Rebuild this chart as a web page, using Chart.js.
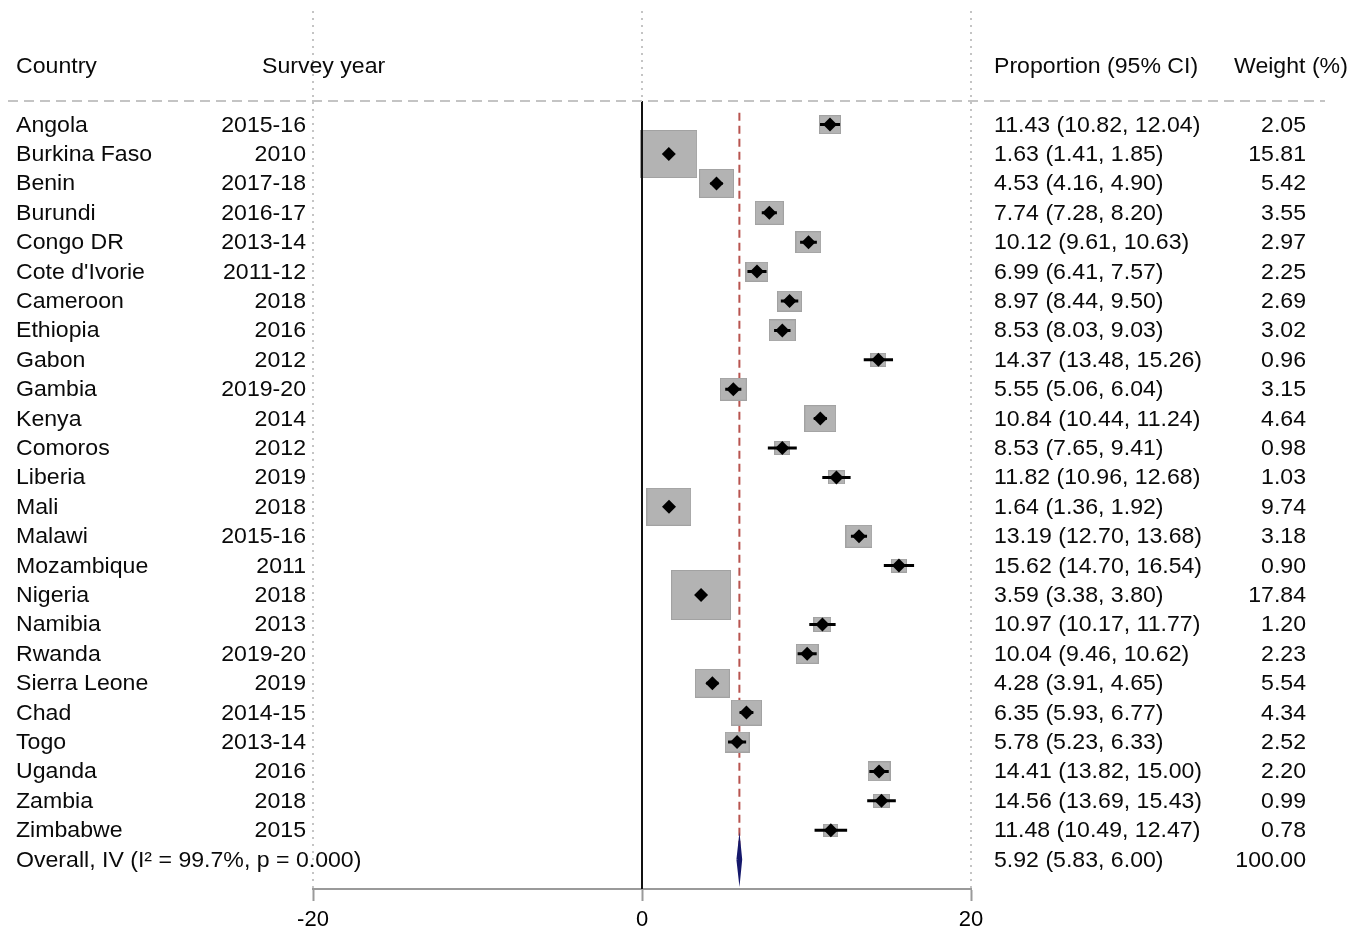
<!DOCTYPE html>
<html>
<head>
<meta charset="utf-8">
<title>Forest plot</title>
<script src="https://cdn.jsdelivr.net/npm/chart.js@4.4.0/dist/chart.umd.min.js"></script>
<style>
  html, body { margin: 0; padding: 0; background: #fff; }
  #wrap { width: 1368px; height: 928px; }
</style>
</head>
<body>
<div id="wrap"><canvas id="forest" width="1368" height="928"></canvas></div>
<script>
// study rows
const countries = ['Angola', 'Burkina Faso', 'Benin', 'Burundi', 'Congo DR', "Cote d'Ivorie", 'Cameroon',
  'Ethiopia', 'Gabon', 'Gambia', 'Kenya', 'Comoros', 'Liberia', 'Mali', 'Malawi', 'Mozambique', 'Nigeria',
  'Namibia', 'Rwanda', 'Sierra Leone', 'Chad', 'Togo', 'Uganda', 'Zambia', 'Zimbabwe'];
const years = ['2015-16', '2010', '2017-18', '2016-17', '2013-14', '2011-12', '2018', '2016', '2012', '2019-20',
  '2014', '2012', '2019', '2018', '2015-16', '2011', '2018', '2013', '2019-20', '2019', '2014-15', '2013-14',
  '2016', '2018', '2015'];
const estimates = [11.43, 1.63, 4.53, 7.74, 10.12, 6.99, 8.97, 8.53, 14.37, 5.55, 10.84, 8.53, 11.82, 1.64,
  13.19, 15.62, 3.59, 10.97, 10.04, 4.28, 6.35, 5.78, 14.41, 14.56, 11.48];
const lower = [10.82, 1.41, 4.16, 7.28, 9.61, 6.41, 8.44, 8.03, 13.48, 5.06, 10.44, 7.65, 10.96, 1.36,
  12.70, 14.70, 3.38, 10.17, 9.46, 3.91, 5.93, 5.23, 13.82, 13.69, 10.49];
const upper = [12.04, 1.85, 4.90, 8.20, 10.63, 7.57, 9.50, 9.03, 15.26, 6.04, 11.24, 9.41, 12.68, 1.92,
  13.68, 16.54, 3.80, 11.77, 10.62, 4.65, 6.77, 6.33, 15.00, 15.43, 12.47];
const weights = [2.05, 15.81, 5.42, 3.55, 2.97, 2.25, 2.69, 3.02, 0.96, 3.15, 4.64, 0.98, 1.03, 9.74,
  3.18, 0.90, 17.84, 1.20, 2.23, 5.54, 4.34, 2.52, 2.20, 0.99, 0.78];

const overallLabel = 'Overall, IV (I\u00b2 = 99.7%, p = 0.000)';
const overallEst = 5.92;
const overallLo = 5.83;
const overallHi = 6.00;
const overallWeight = 100.00;

const xTicks = [-20, 0, 20];

const FONT = '22px "Liberation Sans", Arial, sans-serif';
const n = countries.length; // overall row sits at index n

// grey weight boxes as little canvases (area ~ weight)
const boxImgs = weights.map(w => {
  const c = document.createElement('canvas');
  c.width = Math.round(13.6 * Math.sqrt(w) + 3);
  c.height = Math.round(11.2 * Math.sqrt(w) + 3);
  const g = c.getContext('2d');
  g.fillStyle = '#b3b3b3';
  g.fillRect(0, 0, c.width, c.height);
  g.strokeStyle = '#a2a2a2';
  g.lineWidth = 1;
  g.strokeRect(0.5, 0.5, c.width - 1, c.height - 1);
  return c;
});

// CI segments in one line dataset, broken by NaN points
const ciData = [];
for (let i = 0; i < n; i++) {
  ciData.push({ x: lower[i], y: i }, { x: upper[i], y: i }, { x: NaN, y: NaN });
}

const fmt = v => v.toFixed(2);

function txt(ctx, s, x, y, align) {
  ctx.save();
  ctx.translate(x, y);
  ctx.scale(1.05, 1);
  ctx.textAlign = align;
  ctx.fillText(s, 0, 0);
  ctx.restore();
}

const forestText = {
  id: 'forestText',
  beforeDatasetsDraw(chart) {
    const { ctx, chartArea, scales: { x } } = chart;
    // dotted reference lines at the ticks
    ctx.save();
    ctx.strokeStyle = '#c4c4c4';
    ctx.lineWidth = 2;
    ctx.setLineDash([2, 5]);
    xTicks.forEach(t => {
      const px = Math.round(x.getPixelForValue(t));
      ctx.beginPath();
      ctx.moveTo(px, chartArea.top + 4);
      ctx.lineTo(px, chartArea.bottom);
      ctx.stroke();
    });
    ctx.restore();
  },
  afterDraw(chart) {
    const { ctx, scales: { y } } = chart;
    ctx.save();
    // dashed line under the header
    const yLine = y.getPixelForValue(-0.8);
    ctx.strokeStyle = '#c4c4c4';
    ctx.lineWidth = 2;
    ctx.setLineDash([10, 6]);
    ctx.beginPath();
    ctx.moveTo(8, yLine);
    ctx.lineTo(1325, yLine);
    ctx.stroke();
    ctx.setLineDash([]);

    ctx.fillStyle = '#0a0a0a';
    ctx.font = FONT;
    ctx.textBaseline = 'middle';
    const yh = y.getPixelForValue(-2) + 1;
    txt(ctx, 'Country', 16, yh, 'left');
    txt(ctx, 'Survey year', 262, yh, 'left');
    txt(ctx, 'Proportion (95% CI)', 994, yh, 'left');
    txt(ctx, 'Weight (%)', 1234, yh, 'left');

    for (let i = 0; i < n; i++) {
      const py = y.getPixelForValue(i) + 1;
      txt(ctx, countries[i], 16, py, 'left');
      txt(ctx, years[i], 306, py, 'right');
      txt(ctx, fmt(estimates[i]) + ' (' + fmt(lower[i]) + ', ' + fmt(upper[i]) + ')', 994, py, 'left');
      txt(ctx, fmt(weights[i]), 1306, py, 'right');
    }
    const po = y.getPixelForValue(n) + 1;
    txt(ctx, overallLabel, 16, po, 'left');
    txt(ctx, fmt(overallEst) + ' (' + fmt(overallLo) + ', ' + fmt(overallHi) + ')', 994, po, 'left');
    txt(ctx, fmt(overallWeight), 1306, po, 'right');
    ctx.restore();
  }
};

new Chart(document.getElementById('forest'), {
  type: 'scatter',
  data: {
    datasets: [
      {
        // overall pooled diamond
        data: [
          { x: overallLo, y: n }, { x: overallEst, y: n - 0.45 }, { x: overallHi, y: n },
          { x: overallEst, y: n + 0.45 }, { x: overallLo, y: n }
        ],
        showLine: true,
        fill: 'shape',
        backgroundColor: '#15186b',
        borderColor: '#15186b',
        borderWidth: 3,
        pointRadius: 0,
        order: 1
      },
      {
        // point estimates
        data: estimates.map((v, i) => ({ x: v, y: i })),
        pointStyle: 'rectRot',
        pointRadius: 7,
        backgroundColor: '#000',
        borderWidth: 0,
        order: 2
      },
      {
        // confidence intervals
        data: ciData,
        showLine: true,
        spanGaps: false,
        borderColor: '#000',
        borderWidth: 3,
        pointRadius: 0,
        order: 3
      },
      {
        // null line
        data: [{ x: 0, y: -0.8 }, { x: 0, y: n + 1 }],
        showLine: true,
        borderColor: '#111',
        borderWidth: 2,
        pointRadius: 0,
        order: 4
      },
      {
        // weight boxes
        data: estimates.map((v, i) => ({ x: v, y: i })),
        pointStyle: ctx => boxImgs[ctx.dataIndex],
        pointRadius: 5,
        order: 5
      },
      {
        // overall estimate reference line
        data: [{ x: overallEst, y: -0.4 }, { x: overallEst, y: n - 0.45 }],
        showLine: true,
        borderColor: '#b8544f',
        borderWidth: 2,
        borderDash: [8, 5],
        pointRadius: 0,
        order: 6
      }
    ]
  },
  options: {
    responsive: false,
    animation: false,
    layout: { padding: { left: 313, right: 397, top: 6, bottom: 0 } },
    plugins: { legend: { display: false }, tooltip: { enabled: false } },
    scales: {
      x: {
        type: 'linear',
        min: -20,
        max: 20,
        afterBuildTicks: s => { s.ticks = xTicks.map(v => ({ value: v })); },
        afterFit: s => { s.height = 39; },
        grid: { drawOnChartArea: false, drawTicks: true, tickLength: 12, tickColor: '#9a9a9a', tickWidth: 2 },
        border: { display: true, color: '#9a9a9a', width: 2 },
        ticks: { color: '#000', font: { family: '"Liberation Sans", Arial, sans-serif', size: 22 }, padding: 6, maxRotation: 0 }
      },
      y: {
        type: 'linear',
        reverse: true,
        min: -4,
        max: n + 1,
        display: false
      }
    }
  },
  plugins: [forestText]
});
</script>
</body>
</html>
